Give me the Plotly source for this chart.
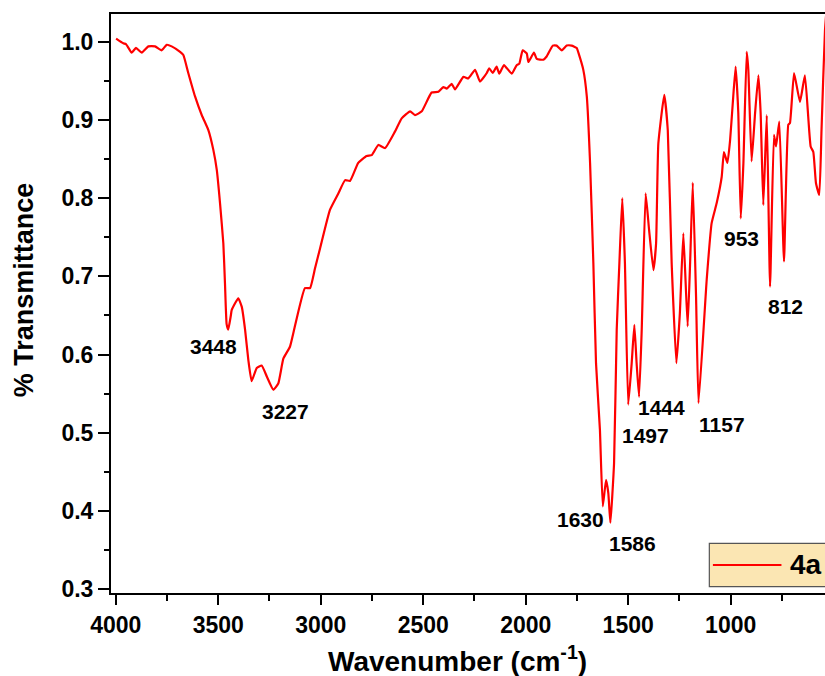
import plotly.graph_objects as go

# ---- data ----
wavenumber = [3998, 3963, 3950, 3922, 3901, 3873, 3841, 3808, 3776, 3751, 3727, 3686, 3670,
              3646, 3613, 3580, 3548, 3524, 3507, 3491, 3475, 3467, 3459, 3451, 3439, 3434,
              3402, 3385, 3369, 3353, 3337, 3312, 3288, 3263, 3231, 3207, 3182, 3150, 3134,
              3077, 3052, 3028, 3003, 2955, 2914, 2881, 2857, 2817, 2776, 2751, 2719, 2686,
              2638, 2605, 2564, 2540, 2507, 2459, 2426, 2402, 2385, 2361, 2345, 2304, 2280,
              2247, 2223, 2190, 2178, 2161, 2142, 2129, 2106, 2068, 2044, 2031, 2015, 1995,
              1987, 1960, 1946, 1914, 1898, 1868, 1849, 1824, 1800, 1776, 1751, 1743, 1719,
              1702, 1686, 1670, 1657, 1638, 1624, 1608, 1597, 1587, 1569, 1556, 1543, 1529,
              1516, 1500, 1483, 1470, 1459, 1447, 1434, 1415, 1398, 1377, 1364, 1353, 1324,
              1307, 1288, 1265, 1248, 1231, 1210, 1198, 1185, 1169, 1157, 1117, 1093, 1068,
              1044, 1033, 1016, 1003, 990, 976, 963, 951, 938, 922, 914, 898, 881, 865, 854,
              841, 824, 808, 789, 779, 763, 740, 719, 711, 691, 662, 638, 610, 597, 584, 568,
              557, 540, 520]
transmittance = [1.004, 0.998, 0.997, 0.986, 0.992, 0.986, 0.994, 0.994, 0.989, 0.996, 0.994, 0.987, 0.983,
                 0.960, 0.930, 0.906, 0.887, 0.862, 0.836, 0.793, 0.742, 0.691, 0.639, 0.632, 0.649, 0.657,
                 0.672, 0.661, 0.632, 0.593, 0.566, 0.583, 0.586, 0.572, 0.555, 0.563, 0.595, 0.610, 0.627,
                 0.685, 0.685, 0.710, 0.736, 0.785, 0.806, 0.823, 0.822, 0.845, 0.854, 0.855, 0.868, 0.864,
                 0.885, 0.902, 0.911, 0.906, 0.911, 0.935, 0.936, 0.942, 0.940, 0.946, 0.939, 0.955, 0.953,
                 0.964, 0.949, 0.960, 0.966, 0.960, 0.968, 0.959, 0.970, 0.959, 0.970, 0.972, 0.989, 0.985,
                 0.974, 0.986, 0.978, 0.977, 0.981, 0.995, 0.995, 0.989, 0.995, 0.995, 0.992, 0.986, 0.964,
                 0.930, 0.845, 0.717, 0.589, 0.504, 0.406, 0.440, 0.423, 0.385, 0.461, 0.632, 0.717, 0.800,
                 0.717, 0.536, 0.589, 0.638, 0.589, 0.546, 0.632, 0.806, 0.759, 0.708, 0.742, 0.870, 0.932,
                 0.887, 0.717, 0.589, 0.653, 0.755, 0.636, 0.717, 0.820, 0.674, 0.538, 0.696, 0.768, 0.794,
                 0.827, 0.859, 0.845, 0.874, 0.921, 0.968, 0.909, 0.774, 0.845, 0.987, 0.964, 0.847, 0.909,
                 0.957, 0.909, 0.791, 0.906, 0.687, 0.881, 0.866, 0.898, 0.719, 0.894, 0.896, 0.960, 0.923,
                 0.957, 0.866, 0.859, 0.819, 0.804, 0.887, 1.015, 1.080]

peak_labels = ["3448", "3227", "1630", "1586", "1497", "1444", "1157", "953", "812"]
label_x = [3525, 3174, 1735, 1481, 1418, 1340, 1042, 945, 735]
label_y = [0.610, 0.527, 0.389, 0.359, 0.496, 0.532, 0.510, 0.748, 0.661]

series_name = "4a"
x_tick_vals = [4000, 3500, 3000, 2500, 2000, 1500, 1000]
y_tick_vals = [0.3, 0.4, 0.5, 0.6, 0.7, 0.8, 0.9, 1.0]

FONT = "Liberation Sans, Arial, sans-serif"

fig = go.Figure()
fig.add_trace(go.Scatter(
    x=wavenumber, y=transmittance, mode="lines", name=series_name,
    line=dict(color="#ff0000", width=2.2, shape="spline", smoothing=0.4),
    showlegend=False,
))

annotations = []
for t, xv, yv in zip(peak_labels, label_x, label_y):
    annotations.append(dict(x=xv, y=yv, xref="x", yref="y", text="<b>%s</b>" % t,
                            xanchor="center", yanchor="middle",
                            showarrow=False, font=dict(family=FONT, size=21, color="black")))

# axis titles
annotations.append(dict(x=0.4846, y=-0.114, xref="paper", yref="paper",
                        xanchor="center", yanchor="middle",
                        text="<b>Wavenumber (cm<sup>-1</sup>)</b>", showarrow=False,
                        font=dict(family=FONT, size=28, color="black")))
annotations.append(dict(x=-0.1218, y=0.523, xref="paper", yref="paper",
                        xanchor="center", yanchor="middle",
                        text="<b>% Transmittance</b>", showarrow=False, textangle=-90,
                        font=dict(family=FONT, size=27, color="black")))
# legend label
annotations.append(dict(x=0.948, y=0.0484, xref="paper", yref="paper", xanchor="left",
                        yanchor="middle",
                        text="<b>%s</b>" % series_name, showarrow=False,
                        font=dict(family=FONT, size=28, color="black")))

shapes = [
    dict(type="rect", xref="paper", yref="paper", x0=0.838, x1=1.08, y0=0.0109, y1=0.0858,
         fillcolor="#fbe6b3", line=dict(color="#555555", width=1.2), layer="above"),
    dict(type="line", xref="paper", yref="paper", x0=0.843, x1=0.939, y0=0.0484, y1=0.0484,
         line=dict(color="#ff0000", width=2), layer="above"),
]

fig.update_layout(
    width=825, height=676,
    margin=dict(l=111, r=0, t=14, b=83),
    paper_bgcolor="white", plot_bgcolor="white",
    annotations=annotations, shapes=shapes,
    font=dict(family=FONT, color="black"),
)
fig.update_xaxes(
    range=[4023, 540], tickvals=x_tick_vals, ticks="outside", ticklen=10, tickwidth=2,
    tickcolor="black", showline=True, linecolor="black", linewidth=2, mirror=True,
    showgrid=False, zeroline=False,
    tickfont=dict(family=FONT, size=23, color="black", weight="bold"),
    minor=dict(dtick=250, tick0=0, ticks="outside", ticklen=6, tickwidth=2, tickcolor="black"),
)
fig.update_yaxes(
    range=[0.2952, 1.0354], tickvals=y_tick_vals, tickformat=".1f", ticks="outside", ticklen=11,
    tickwidth=2, tickcolor="black", showline=True, linecolor="black", linewidth=2,
    showgrid=False, zeroline=False,
    tickfont=dict(family=FONT, size=23, color="black", weight="bold"),
    minor=dict(dtick=0.05, tick0=0, ticks="outside", ticklen=5, tickwidth=2, tickcolor="black"),
)

fig.write_html("out.html")
